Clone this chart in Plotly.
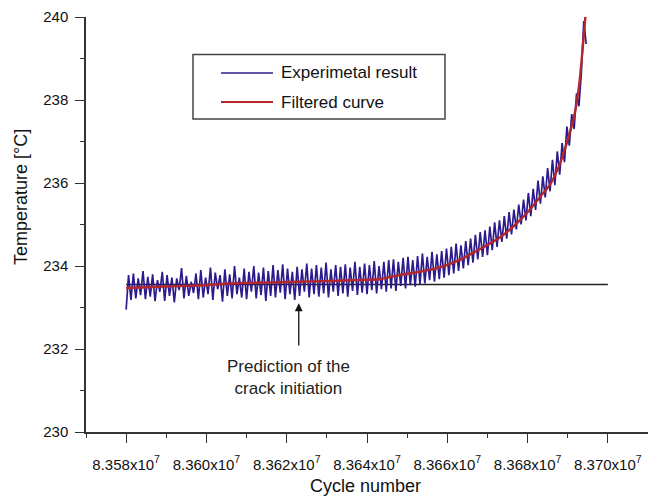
import numpy as np
import plotly.graph_objects as go

# ---------------- data ----------------
exp_cycle_start = 83580000
exp_cycle_step = 600
exp_temp = [
    232.95, 233.78, 233.18, 233.82, 233.22, 233.70, 233.30, 233.88, 233.20, 233.74,
    233.26, 233.80, 233.15, 233.66, 233.38, 233.86, 233.16, 233.78, 233.28, 233.72,
    233.12, 233.70, 233.42, 233.95, 233.22, 233.76, 233.28, 233.62, 233.35, 233.82,
    233.20, 233.90, 233.24, 233.72, 233.32, 233.96, 233.18, 233.84, 233.44, 233.78,
    233.14, 233.92, 233.28, 233.80, 233.22, 234.00, 233.32, 233.72, 233.24, 233.94,
    233.20, 233.86, 233.38, 234.00, 233.22, 233.84, 233.30, 233.96, 233.16, 233.88,
    233.28, 234.02, 233.24, 233.90, 233.36, 234.04, 233.20, 233.94, 233.32, 233.86,
    233.18, 233.98, 233.28, 233.92, 233.38, 234.06, 233.24, 233.94, 233.32, 234.02,
    233.26, 233.96, 233.34, 234.08, 233.24, 233.92, 233.38, 234.02, 233.28, 233.98,
    233.34, 234.04, 233.26, 233.96, 233.40, 234.10, 233.30, 233.98, 233.36, 234.06,
    233.32, 234.02, 233.42, 234.12, 233.34, 234.00, 233.44, 234.10, 233.38, 234.14,
    233.46, 234.16, 233.40, 234.10, 233.52, 234.20, 233.46, 234.22, 233.54, 234.14,
    233.50, 234.24, 233.56, 234.30, 233.58, 234.22, 233.66, 234.34, 233.62, 234.28,
    233.68, 234.36, 233.72, 234.42, 233.78, 234.46, 233.82, 234.54, 233.88, 234.50,
    233.94, 234.60, 234.02, 234.66, 234.08, 234.75, 234.16, 234.82, 234.22, 234.86,
    234.26, 234.95, 234.38, 235.05, 234.46, 235.10, 234.58, 235.20, 234.66, 235.30,
    234.76, 235.36, 234.88, 235.48, 235.00, 235.60, 235.10, 235.76, 235.20, 235.86,
    235.35, 236.06, 235.50, 236.16, 235.65, 236.36, 235.80, 236.56, 235.95, 236.76,
    236.20, 236.96, 236.50, 237.36, 236.90, 237.66, 237.30, 238.16, 237.85, 238.66,
    239.90, 239.35,
]

filt_cycle = [83580000, 83588000, 83598000, 83606000, 83615000, 83623000, 83631000,
              83638000, 83643000, 83648000, 83653000, 83658000, 83663000, 83668000,
              83673000, 83677000, 83680500, 83683000, 83685500, 83688000, 83690500,
              83691700, 83692900, 83694400]
filt_temp = [233.47, 233.50, 233.53, 233.58, 233.60, 233.62, 233.64,
             233.66, 233.68, 233.78, 233.86, 233.96, 234.14, 234.40,
             234.68, 235.00, 235.35, 235.65, 235.95, 236.45, 237.20,
             237.65, 238.40, 240.00]

ref_cycle = [83580000, 83700000]
ref_temp = [233.555, 233.555]

arrow_cycle = 83623000
arrow_tip_temp = 233.10
arrow_tail_temp = 232.05

x_tickvals = [83580000, 83600000, 83620000, 83640000, 83660000, 83680000, 83700000]
x_ticktext = ["8.358x10<sup>7</sup>", "8.360x10<sup>7</sup>", "8.362x10<sup>7</sup>",
              "8.364x10<sup>7</sup>", "8.366x10<sup>7</sup>", "8.368x10<sup>7</sup>",
              "8.370x10<sup>7</sup>"]
x_minorvals = [83570000, 83590000, 83610000, 83630000, 83650000, 83670000, 83690000]
y_tickvals = [230, 232, 234, 236, 238, 240]
y_minorvals = [231, 233, 235, 237, 239]

legend_labels = ["Experimetal result", "Filtered curve"]
x_title = "Cycle number"
y_title = "Temperature [°C]"
note_text = "Prediction of the<br>crack initiation"

# ---------------- layout helpers ----------------
W, H = 648, 496
ML, MR, MT, MB = 86, 0, 17, 64
PW, PH = W - ML - MR, H - MT - MB


def px(x):
    return (x - ML) / PW


def py(y):
    return (H - MB - y) / PH


BLUE = "#2c1b8c"
RED = "#b3262a"
AXC = "#333333"
FONT = "Liberation Sans, Arial, Helvetica, sans-serif"

exp_cycle = exp_cycle_start + exp_cycle_step * np.arange(len(exp_temp))

fig = go.Figure()
fig.add_trace(go.Scatter(x=ref_cycle, y=ref_temp, mode="lines",
                         line=dict(color="#222222", width=1.5), showlegend=False,
                         hoverinfo="skip"))
fig.add_trace(go.Scatter(x=exp_cycle, y=exp_temp, mode="lines",
                         line=dict(color=BLUE, width=1.7), name=legend_labels[0],
                         showlegend=False))
fig.add_trace(go.Scatter(x=filt_cycle, y=filt_temp, mode="lines",
                         line=dict(color=RED, width=2.4, shape="spline", smoothing=0.6),
                         name=legend_labels[1], showlegend=False))

shapes = [
    dict(type="rect", xref="paper", yref="paper", x0=px(193), x1=px(445),
         y0=py(119), y1=py(54.5), line=dict(color="#444444", width=1.5)),
    dict(type="line", xref="paper", yref="paper", x0=px(221), x1=px(273),
         y0=py(73), y1=py(73), line=dict(color=BLUE, width=1.5)),
    dict(type="line", xref="paper", yref="paper", x0=px(221), x1=px(273),
         y0=py(102), y1=py(102), line=dict(color=RED, width=2)),
]

annotations = [
    dict(xref="paper", yref="paper", x=px(279), y=py(73), text=legend_labels[0],
         showarrow=False, xanchor="left", yanchor="middle",
         font=dict(size=17, color="#111111", family=FONT)),
    dict(xref="paper", yref="paper", x=px(279), y=py(102), text=legend_labels[1],
         showarrow=False, xanchor="left", yanchor="middle",
         font=dict(size=17, color="#111111", family=FONT)),
    dict(x=arrow_cycle, y=arrow_tip_temp, ax=arrow_cycle, ay=arrow_tail_temp,
         xref="x", yref="y", axref="x", ayref="y", text="", showarrow=True,
         arrowhead=2, arrowsize=1.2, arrowwidth=1.3, arrowcolor="#111111"),
    dict(xref="paper", yref="paper", x=px(288), y=py(377.5), text=note_text,
         showarrow=False, xanchor="center", yanchor="middle",
         font=dict(size=17, color="#222222", family=FONT)),
    dict(xref="paper", yref="paper", x=px(365), y=py(486), text=x_title,
         showarrow=False, xanchor="center", yanchor="middle",
         font=dict(size=18, color="#111111", family=FONT)),
    dict(xref="paper", yref="paper", x=px(21), y=py(197), text=y_title,
         showarrow=False, xanchor="center", yanchor="middle", textangle=-90,
         font=dict(size=18, color="#111111", family=FONT)),
]

fig.update_layout(
    width=W, height=H,
    margin=dict(l=ML, r=MR, t=MT, b=MB, pad=0, autoexpand=False),
    paper_bgcolor="white", plot_bgcolor="white",
    font=dict(family=FONT, size=15, color="#111111"),
    shapes=shapes, annotations=annotations,
    xaxis=dict(range=[83570000, 83710000], showgrid=False, zeroline=False,
               automargin=False,
               showline=True, linecolor=AXC, linewidth=1.5,
               ticks="outside", ticklen=9, tickwidth=1.2, tickcolor=AXC,
               ticklabelstandoff=9,
               tickmode="array", tickvals=x_tickvals, ticktext=x_ticktext,
               tickfont=dict(size=15, family=FONT, color="#111111"),
               minor=dict(ticks="outside", ticklen=4, tickwidth=1.2, tickcolor=AXC,
                          tickmode="array", tickvals=x_minorvals)),
    yaxis=dict(range=[230, 240], showgrid=False, zeroline=False,
               automargin=False,
               showline=True, linecolor=AXC, linewidth=1.5,
               ticks="outside", ticklen=9, tickwidth=1.2, tickcolor=AXC,
               ticklabelstandoff=4,
               tickmode="array", tickvals=y_tickvals,
               tickfont=dict(size=15, family=FONT, color="#111111"),
               minor=dict(ticks="outside", ticklen=4, tickwidth=1.2, tickcolor=AXC,
                          tickmode="array", tickvals=y_minorvals)),
)

fig.write_html("out.html", config={"displayModeBar": False},
               post_script="document.body.style.margin='0px';"
                           "document.body.style.padding='0px';")
